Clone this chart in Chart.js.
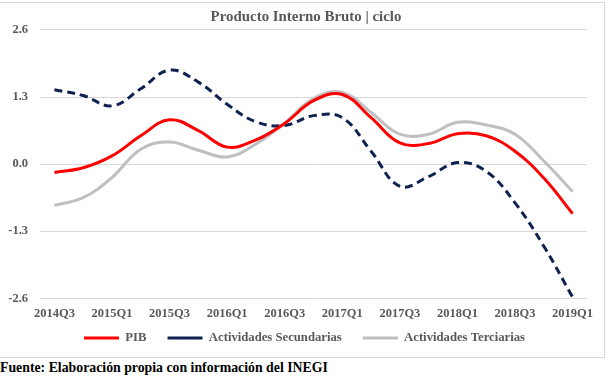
<!DOCTYPE html>
<html><head><meta charset="utf-8">
<script src="https://cdn.jsdelivr.net/npm/chart.js@4"></script>
<style>
html,body{margin:0;padding:0;background:#fff;width:610px;height:383px;overflow:hidden;}
#frame{position:absolute;left:-1px;top:2px;width:604px;height:354px;border:1px solid #d9d9d9;}
#wrap{position:absolute;left:0;top:0;width:605px;height:368px;}
#note{position:absolute;left:0;top:360px;font:bold 13.8px "Liberation Serif";color:#000;white-space:nowrap;background:#fff;}
</style></head><body>
<div id="frame"></div>
<div id="wrap"><canvas id="c"></canvas></div>
<div id="note">Fuente: Elaboración propia con información del INEGI</div>
<script>
const categories = ["2014Q3","2014Q4","2015Q1","2015Q2","2015Q3","2015Q4","2016Q1","2016Q2","2016Q3","2016Q4","2017Q1","2017Q2","2017Q3","2017Q4","2018Q1","2018Q2","2018Q3","2018Q4","2019Q1"];
const pib         = [-0.16,-0.07,0.16,0.55,0.86,0.65,0.33,0.47,0.79,1.23,1.35,0.90,0.41,0.40,0.59,0.55,0.25,-0.27,-0.96];
const secundarias = [1.44,1.33,1.13,1.46,1.82,1.59,1.16,0.82,0.75,0.94,0.90,0.25,-0.43,-0.24,0.03,-0.14,-0.75,-1.59,-2.58];
const terciarias  = [-0.80,-0.65,-0.26,0.29,0.43,0.27,0.14,0.39,0.80,1.27,1.39,1.00,0.58,0.58,0.81,0.76,0.58,0.06,-0.53];
const yTicks = [-2.6,-1.3,0.0,1.3,2.6];
const seriesNames = ["PIB","Actividades Secundarias","Actividades Terciarias"];
const titleText = "Producto Interno Bruto | ciclo";

const FONT = "Liberation Serif";
const GREY_TXT = "#595959";

// Nudges the title and legend blocks so they sit where they do in the reference.
const placeBlocks = {
  id: "placeBlocks",
  afterLayout(chart) {
    const tt = chart.titleBlock;
    if (tt) {
      const dx = 306 - (tt.left + tt.right) / 2;
      tt.left += dx; tt.right += dx;
    }
    const lg = chart.legend;
    if (lg) {
      const o = lg.options.labels;
      const fs = Chart.helpers.toFont(o.font).size;
      const dy = 338 - (lg.top + o.padding + fs / 2);
      const dx = 304.5 - (lg.left + lg.right) / 2;
      lg.top += dy; lg.bottom += dy;
      lg.left += dx; lg.right += dx;
    }
  }
};

new Chart(document.getElementById("c"), {
  type: "line",
  data: {
    labels: categories,
    datasets: [
      {label: seriesNames[0], data: pib, borderColor: "#ff0000", backgroundColor: "#ff0000", borderWidth: 3, tension: 0.4, pointRadius: 0, fill: false},
      {label: seriesNames[1], data: secundarias, borderColor: "#0f2150", backgroundColor: "#0f2150", borderWidth: 3, borderDash: [8,5], tension: 0.4, pointRadius: 0, fill: false},
      {label: seriesNames[2], data: terciarias, borderColor: "#bfbfbf", backgroundColor: "#bfbfbf", borderWidth: 3, tension: 0.4, pointRadius: 0, fill: false}
    ]
  },
  plugins: [placeBlocks],
  options: {
    responsive: true,
    maintainAspectRatio: false,
    animation: false,
    layout: {padding: {left: 0, right: 18, top: 0, bottom: 0}},
    plugins: {
      title: {display: true, text: titleText, color: GREY_TXT, font: {family: FONT, size: 14.9, weight: "bold"}, padding: {top: 8, bottom: 4.1}},
      legend: {position: "bottom", labels: {usePointStyle: true, pointStyle: "line", pointStyleWidth: 35, color: GREY_TXT, font: {family: FONT, size: 12.7, weight: "bold"}, padding: 21}},
      tooltip: {enabled: false}
    },
    scales: {
      x: {
        type: "category",
        offset: true,
        grid: {display: false, drawTicks: false},
        border: {display: false},
        ticks: {autoSkip: false, maxRotation: 0, minRotation: 0, color: GREY_TXT, font: {family: FONT, size: 12.5, weight: "bold"}, padding: 8,
          callback: (v, i) => (i % 2 === 0 ? categories[i] : "")},
        afterFit: s => { s.height = 26; }
      },
      y: {
        min: yTicks[0],
        max: yTicks[yTicks.length - 1],
        afterBuildTicks: s => { s.ticks = yTicks.map(v => ({value: v})); },
        grid: {color: "#d9d9d9", drawTicks: false, lineWidth: 1},
        border: {display: false},
        ticks: {color: GREY_TXT, font: {family: FONT, size: 12.5, weight: "bold"}, padding: 12, callback: v => Number(v).toFixed(1)},
        afterFit: s => { s.width = 40; }
      }
    }
  }
});
</script>
</body></html>
